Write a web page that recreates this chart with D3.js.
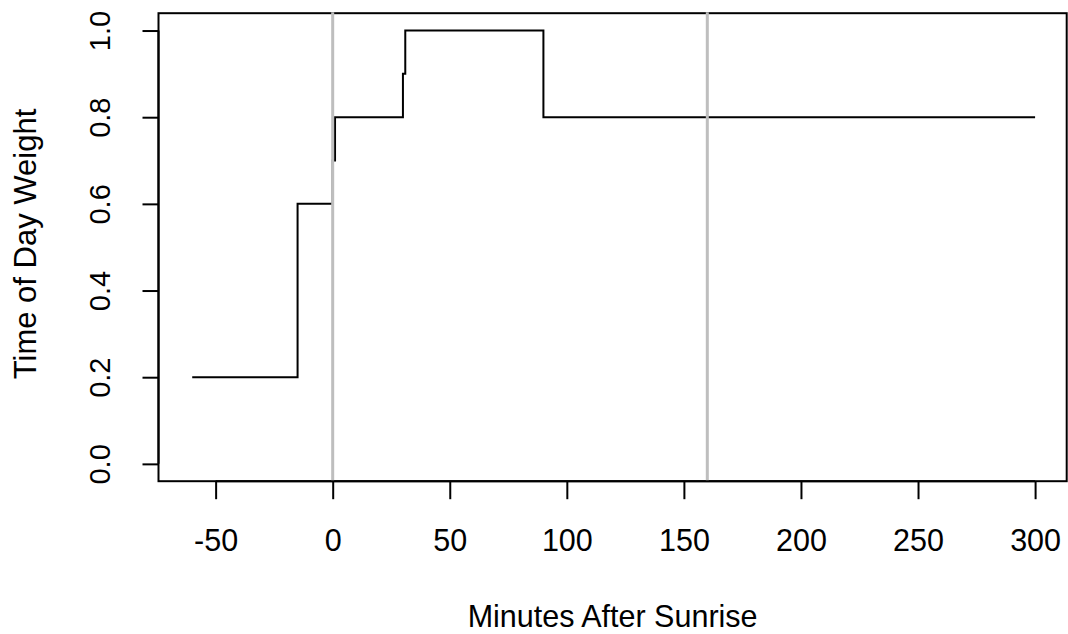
<!DOCTYPE html>
<html>
<head>
<meta charset="utf-8">
<script src="https://cdn.jsdelivr.net/npm/d3@7"></script>
<style>
  html, body { margin: 0; padding: 0; background: #fff; }
  svg { display: block; }
  text { font-family: "Liberation Sans", Arial, sans-serif; fill: #000; }
</style>
</head>
<body>
<svg id="chart" width="1068" height="634"></svg>
<script>
// Data: step function of time-of-day weight
const minutes = [-60, -15, 0, 1, 30, 31, 90, 300];
const weights = [0.2, 0.6, 0.7, 0.8, 0.9, 1.0, 0.8, 0.8];
const refLines = [0, 160];
const xTicks = [-50, 0, 50, 100, 150, 200, 250, 300];
const yTicks = [0.0, 0.2, 0.4, 0.6, 0.8, 1.0];
const xLabel = "Minutes After Sunrise";
const yLabel = "Time of Day Weight";

const svg = d3.select("#chart");
const pL = 158.5, pR = 1066.7, pT = 13.2, pB = 481.2;

const x = d3.scaleLinear().domain([-74.4, 313.5]).range([pL, pR]);
const y = d3.scaleLinear().domain([-0.04, 1.04]).range([pB, pT]);

const data = minutes.map((m, i) => ({ m, w: weights[i] }));

// step line
const line = d3.line().x(d => x(d.m)).y(d => y(d.w)).curve(d3.curveStepAfter);
svg.append("path")
  .datum(data)
  .attr("d", line)
  .attr("fill", "none")
  .attr("stroke", "#000")
  .attr("stroke-width", 2);

// box
svg.append("rect")
  .attr("x", pL).attr("y", pT)
  .attr("width", pR - pL).attr("height", pB - pT)
  .attr("fill", "none").attr("stroke", "#000").attr("stroke-width", 2);

// reference lines (drawn after box)
svg.selectAll("line.ref").data(refLines).enter().append("line")
  .attr("class", "ref")
  .attr("x1", d => x(d)).attr("x2", d => x(d))
  .attr("y1", pT - 1).attr("y2", pB + 1)
  .attr("stroke", "#bebebe").attr("stroke-width", 3);

// x axis
const xAxis = d3.axisBottom(x).tickValues(xTicks).tickSize(18).tickPadding(8)
  .tickFormat(d => d < 0 ? "-" + Math.abs(d) : String(d));
const gx = svg.append("g").attr("transform", `translate(0,${pB})`).call(xAxis);
gx.select(".domain").attr("d", `M${x(-50)},0H${x(300)}`).attr("stroke-width", 2);
gx.selectAll(".tick line").attr("stroke-width", 2);
gx.selectAll(".tick text")
  .attr("dy", null)
  .attr("y", 551 - pB)
  .style("font-size", "30.5px")
  .style("font-family", "'Liberation Sans', Arial, sans-serif");

// y axis
const yAxis = d3.axisLeft(y).tickValues(yTicks).tickSize(16).tickFormat(d3.format(".1f"));
const gy = svg.append("g").attr("transform", `translate(${pL},0)`).call(yAxis);
gy.select(".domain").attr("d", `M0,${y(0)}V${y(1)}`).attr("stroke-width", 2);
gy.selectAll(".tick line").attr("stroke-width", 2);
gy.selectAll(".tick text")
  .attr("dy", null)
  .attr("transform", `translate(${110 - pL},0) rotate(-90)`)
  .attr("text-anchor", "middle")
  .attr("x", 0).attr("y", 0)
  .style("font-size", "29px")
  .style("font-family", "'Liberation Sans', Arial, sans-serif");

// axis titles
svg.append("text")
  .attr("x", (pL + pR) / 2).attr("y", 627)
  .attr("text-anchor", "middle")
  .style("font-size", "30.5px")
  .text(xLabel);

svg.append("text")
  .attr("transform", `translate(36,244) rotate(-90)`)
  .attr("text-anchor", "middle")
  .style("font-size", "31px")
  .text(yLabel);
</script>
</body>
</html>
